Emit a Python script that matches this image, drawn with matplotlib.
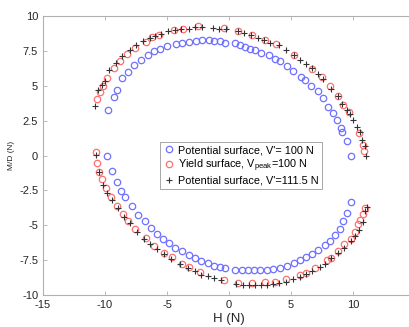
import matplotlib
matplotlib.use("Agg")
import matplotlib.pyplot as plt
import numpy as np

plt.rcParams['font.family'] = ['Liberation Sans', 'DejaVu Sans']
plt.rcParams['axes.unicode_minus'] = False

# Potential surface, V' = 100 N
pot100_x = [-9.75, -9.3, -9.05, -8.65, -8.14, -7.63, -7.12, -6.56, -6.05, -5.54, -4.98, -4.28,
            -3.78, -3.21, -2.65, -2.17, -1.63, -1.18, -0.72, -0.3, 0.46, 0.91, 1.31, 1.66, 2.11,
            2.6, 3.19, 3.67, 4.1, 4.66, 5.2, 5.78, 6.16, 6.59, 7.15, 7.58, 8.01, 8.41, 8.7, 9.02,
            9.08, 9.5, 9.85,
            -9.8,
            -9.4, -9.05, -8.73, -8.37, -7.81, -7.33, -6.8, -6.31, -5.8, -5.32, -4.84, -4.36, -3.8,
            -3.26, -2.73, -2.25, -1.71, -1.18, -0.72, -0.3, 0.51, 1.02, 1.5, 1.98, 2.52, 3.05,
            3.53, 4.1, 4.68, 5.22, 5.7, 6.18, 6.67, 7.2, 7.76, 8.14, 8.51, 8.92, 9.18, 9.5, 9.85]
pot100_y = [3.28, 4.16, 4.73, 5.52, 6.02, 6.48, 6.84, 7.17, 7.46, 7.67, 7.84, 8.0,
            8.1, 8.17, 8.24, 8.27, 8.27, 8.24, 8.2, 8.1, 8.06, 7.91, 7.81, 7.67, 7.53,
            7.36, 7.17, 6.93, 6.77, 6.41, 6.09, 5.64, 5.38, 4.95, 4.62, 4.09, 3.51, 3.08, 2.58, 2.0,
            1.68, 1.05, -0.05,
            0.0,
            -1.1, -1.89, -2.51, -2.94, -3.61, -4.27, -4.7, -5.21, -5.61, -5.95, -6.24, -6.62, -6.86,
            -7.1, -7.33, -7.55, -7.72, -7.91, -8.0, -8.1, -8.19, -8.19, -8.2, -8.2, -8.2, -8.2,
            -8.15, -8.05, -7.91, -7.74, -7.52, -7.29, -7.05, -6.79, -6.43, -6.12, -5.71, -5.28, -4.66, -4.1, -3.32]

# Yield surface, Vpeak = 100 N
yield_x = [-10.61, -10.37, -10.18, -9.81, -9.3, -8.8, -8.2, -7.59, -6.73, -6.2, -5.67, -4.43,
           -3.68, -2.5, -0.38, 0.75, 1.82, 2.87, 3.78, 5.25, 6.72, 7.47, 8.17, 8.81, 9.21,
           9.7, 10.5, 10.79, 10.92,
           -10.76, -10.68,
           -10.5, -10.22, -9.93, -9.53, -9.05, -8.57, -8.14, -7.55, -6.72, -6.05, -5.28, -4.6,
           -3.78, -3.19, -2.33, -0.38, 0.75, 1.85, 2.92, 3.72, 4.6, 5.7, 6.18, 6.96, 7.87, 8.2,
           8.78, 9.3, 9.86, 10.14, 10.42, 10.6, 10.79, 10.95]
yield_y = [4.06, 4.57, 5.0, 5.59, 6.27, 6.79, 7.29, 7.74, 8.17, 8.53, 8.67, 9.01,
           9.1, 9.25, 9.15, 8.96, 8.65, 8.29, 7.96, 7.17, 6.22, 5.62, 4.95, 4.23, 3.61,
           3.1, 1.6, 0.77, 0.29,
           0.24, -0.55,
           -1.19, -1.67, -2.34, -2.94, -3.61, -4.18, -4.7, -5.28, -5.92, -6.5, -6.97, -7.31,
           -7.79, -7.96, -8.32, -8.91, -9.15, -9.15, -9.1, -9.05, -8.86, -8.57, -8.43, -8.07, -7.5, -7.36,
           -6.83, -6.35, -5.95, -5.49, -4.92, -4.61, -4.18, -3.77]

# Potential surface, V' = 111.5 N
pot111_x = [-10.8, -10.53, -10.25, -10.0, -9.65, -9.12, -8.6, -7.99, -7.48, -6.96, -6.36, -5.94,
            -5.48, -4.92, -4.33, -3.85, -3.23, -2.78, -2.14, -1.31, -0.78, -0.24, 0.7, 1.23, 1.77,
            2.3, 2.84, 3.32, 4.04, 4.58, 5.22, 5.73, 6.18, 6.72, 7.17, 7.55, 8.19, 8.76, 9.13,
            9.53, 9.72, 9.99, 10.29, 10.53, 10.74, 10.95, 11.08,
            -10.76,
            -10.45, -10.18, -9.83, -9.45, -8.96, -8.48, -8.0, -7.44, -6.85, -6.34, -5.83, -5.24,
            -4.66, -3.94, -3.27, -2.78, -2.25, -1.71, -1.18, -0.64, 0.56, 1.1, 1.63, 2.11, 2.57,
            3.1, 3.56, 4.04, 4.58, 5.17, 5.7, 6.24, 6.72, 7.31, 7.71, 8.22, 8.76, 9.24, 9.8,
            10.2, 10.47, 10.79, 11.0, 11.12]
pot111_y = [3.56, 4.69, 5.07, 5.36, 6.12, 6.6, 7.1, 7.53, 7.89, 8.2, 8.44, 8.58,
            8.7, 8.89, 9.01, 9.08, 9.1, 9.2, 9.2, 9.13, 9.1, 9.06, 8.96, 8.75, 8.65,
            8.41, 8.29, 8.1, 7.89, 7.53, 7.24, 6.84, 6.55, 6.27, 5.86, 5.5, 4.8, 4.23, 3.68,
            3.23, 2.94, 2.56, 2.06, 1.65, 1.13, 0.65, -0.03,
            0.05,
            -1.19, -2.08, -2.67, -3.2, -3.77, -4.42, -4.85, -5.47, -6.0, -6.35, -6.71, -7.05,
            -7.41, -7.79, -8.03, -8.27, -8.55, -8.62, -8.79, -8.96, -9.2, -9.29, -9.29, -9.29, -9.29,
            -9.25, -9.2, -9.13, -9.06, -8.86, -8.72, -8.53, -8.29, -7.96, -7.76, -7.38, -6.97, -6.64, -6.14,
            -5.76, -5.33, -4.75, -4.01, -3.68]

x_ticks = [-15, -10, -5, 0, 5, 10, 15]
# the 15 label falls outside the cropped picture
x_tick_labels = ['-15', '-10', '-5', '0', '5', '10', '']
y_ticks = [-10, -7.5, -5, -2.5, 0, 2.5, 5, 7.5, 10]
y_tick_labels = ['-10', '-7.5', '-5', '-2.5', '0', '2.5', '5', '7.5', '10']

fig = plt.figure(figsize=(4.1, 3.27), dpi=100)
ax = fig.add_axes([43 / 410, 32 / 327, 372 / 410, 279 / 327])

ax.plot(pot100_x, pot100_y, 'o', mfc='none', mec='#7070ff', mew=0.9, ms=4.6,
        label="Potential surface, V'= 100 N")
ax.plot(yield_x, yield_y, 'o', mfc='none', mec='#ff7070', mew=0.9, ms=4.6,
        label="Yield surface, V$_{\\mathregular{peak}}$=100 N")
ax.plot(pot111_x, pot111_y, '+', color='#333333', mew=0.8, ms=5,
        label="Potential surface, V'=111.5 N")

ax.set_xlim(-15, 15)
ax.set_ylim(-10, 10)
ax.set_xticks(x_ticks)
ax.set_xticklabels(x_tick_labels)
ax.set_yticks(y_ticks)
ax.set_yticklabels(y_tick_labels)
ax.tick_params(direction='in', length=3, width=0.6, color='#b0b0b0',
               labelsize=8, labelcolor='#262626', top=True, right=True)
for s in ax.spines.values():
    s.set_color('#b0b0b0')
    s.set_linewidth(0.8)

ax.set_xlabel('H (N)', fontsize=9.5, color='#262626', labelpad=2)
ax.set_ylabel('M/D (N)', fontsize=6, color='#262626', labelpad=3)

leg = ax.legend(loc='upper left', bbox_to_anchor=((160 - 43) / 372, (295 - 142) / 279),
                fontsize=7.8, handlelength=1.0, handletextpad=0.4, borderpad=0.3,
                borderaxespad=0, labelspacing=0.2, fancybox=False, framealpha=1,
                edgecolor='#999999')
leg.get_frame().set_linewidth(0.6)

fig.savefig('out.png', dpi=100)
